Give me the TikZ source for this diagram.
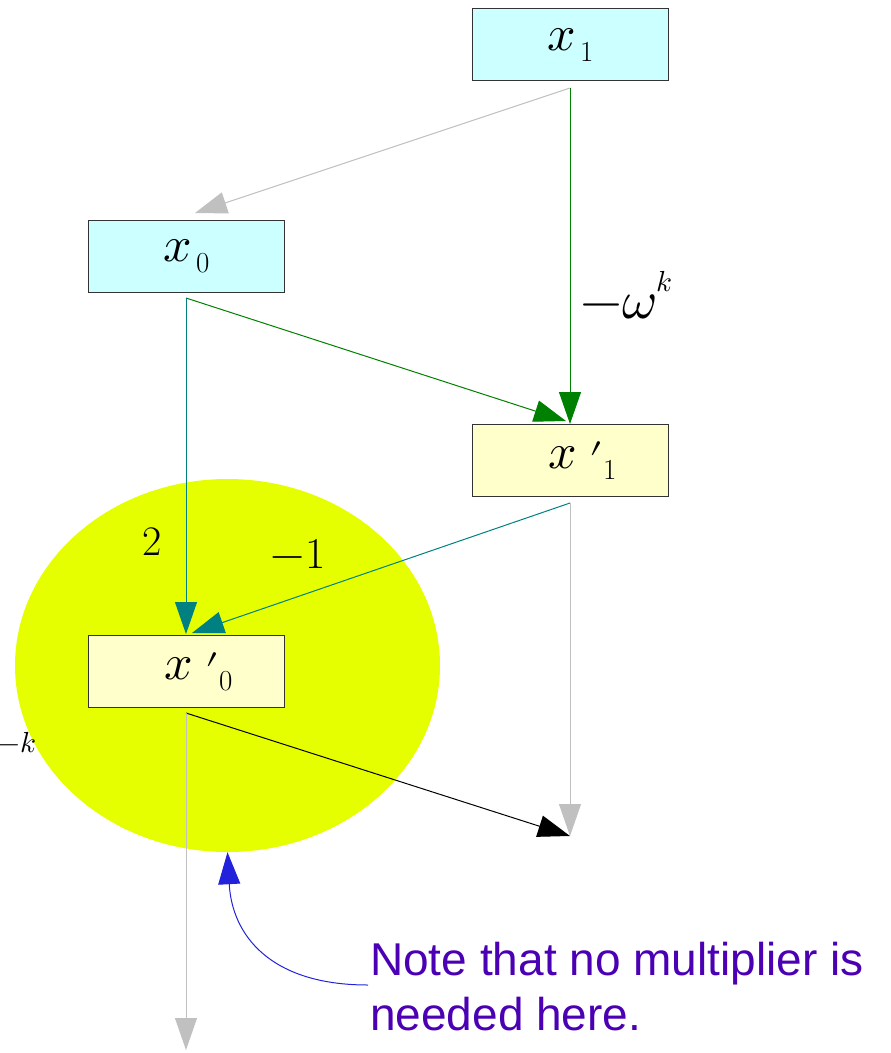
\documentclass[tikz,border=0pt]{standalone}
\usepackage{fontspec}
\usepackage{unicode-math}
\setmathfont{Latin Modern Math}
\newfontfamily\notefont{Liberation Sans}
\usetikzlibrary{arrows.meta,shapes.geometric}

\definecolor{boxcyan}{HTML}{CCFFFF}
\definecolor{boxcream}{HTML}{FFFFCC}
\definecolor{blobyellow}{HTML}{E5FF00}
\definecolor{wiregray}{HTML}{C0C0C0}
\definecolor{wiregreen}{HTML}{008000}
\definecolor{wireteal}{HTML}{008080}
\definecolor{noteblue}{HTML}{2222DD}
\definecolor{notepurple}{HTML}{4B00B4}

% variable symbols x_i and x'_i
\newcommand{\xvar}[1]{{\fontsize{50}{50}\selectfont$x$}\hspace{4pt}\raisebox{-11pt}{\fontsize{29}{29}\selectfont #1}}
\newcommand{\xpvar}[1]{{\fontsize{50}{50}\selectfont$x$}\hspace{12pt}\raisebox{-6pt}{\fontsize{44}{44}\selectfont$\prime$}\raisebox{-11pt}{\fontsize{29}{29}\selectfont #1}}

\begin{document}
\begin{tikzpicture}[x=1pt,y=-1pt,
  valbox/.style={draw=black!80, line width=1.2pt, minimum width=196pt,
    minimum height=72pt, inner sep=0pt, anchor=north west},
  inbox/.style={valbox, fill=boxcyan},
  outbox/.style={valbox, fill=boxcream},
  wire/.style={line width=1pt, -{Triangle[length=32pt,width=22pt]}},
  coef/.style={inner sep=0pt},
]
\useasboundingbox (0,0) rectangle (891,1053);

% highlighted region
\node[ellipse, fill=blobyellow, minimum width=425pt, minimum height=373pt,
  inner sep=0pt] (blob) at (227.5,665.5) {};

% value boxes
\node[inbox]  (x1)  at (472,8)   {\xvar{1}};
\node[inbox]  (x0)  at (88,220)  {\xvar{0}};
\node[outbox] (x1p) at (472,424) {\hspace{24pt}\xpvar{1}};
\node[outbox] (x0p) at (88,635)  {\hspace{24pt}\xpvar{0}};

% wire end points
\coordinate (x1out)  at (570,88);
\coordinate (x0out)  at (186,298);
\coordinate (x1pout) at (570,503);
\coordinate (x0pout) at (186,713);
\coordinate (x0in)   at (195,213);
\coordinate (x1pinA) at (570,424);
\coordinate (x1pinB) at (566,421);
\coordinate (x0pinA) at (186,634);
\coordinate (x0pinB) at (192,633);
\coordinate (endA)   at (570,836);
\coordinate (endB)   at (186,1050);

% butterfly wires
\draw[wire, wiregray]  (x1out) -- (x0in);
\draw[wire, wiregreen] (x1out) -- (x1pinA);
\draw[wire, wiregreen] (x0out) -- (x1pinB);
\draw[wire, wireteal]  (x0out) -- (x0pinA);
\draw[wire, wireteal]  (x1pout) -- (x0pinB);
\draw[wire, wiregray]  (x1pout) -- (endA);
\draw[wire, black]     (x0pout) -- (endA);
\draw[wire, wiregray]  (x0pout) -- (endB);

% multipliers
\node[coef, anchor=base west] (mw) at (580,318)
  {\fontsize{54}{54}\selectfont$-\mupomega$\raisebox{27pt}{\fontsize{29}{29}\selectfont$k$}};
\node[coef, anchor=base] (two) at (152,555) {\fontsize{42}{42}\selectfont 2};
\node[coef, anchor=base] (mone) at (298,568) {\fontsize{44}{44}\selectfont$-$1};
\node[coef, anchor=base east] (mk) at (36,752)
  {\fontsize{29}{29}\selectfont$-k$};

% note
\node[anchor=north west, align=left, inner sep=0pt, text=notepurple,
  font=\notefont\fontsize{46}{55}\selectfont] (note) at (370,942)
  {Note that no multiplier is\\needed here.};
\coordinate (notetail) at (368,985);
\draw[noteblue, line width=1pt, -{Triangle[length=32pt,width=22pt]}]
  (notetail) .. controls (270,985) and (232,935) .. (blob.south);
\end{tikzpicture}
\end{document}
